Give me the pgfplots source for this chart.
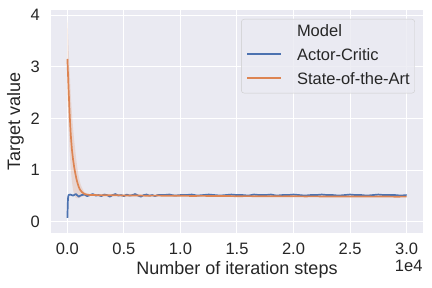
\documentclass[border=0pt]{standalone}
\usepackage{fontspec}
\setmainfont{Liberation Sans}
\usepackage{pgfplots}
\usepackage{pgfplotstable}
\pgfplotsset{compat=1.18}
\usepgfplotslibrary{fillbetween}
\definecolor{bgcol}{RGB}{234,234,242}
\definecolor{sbblue}{RGB}{76,114,176}
\definecolor{sborange}{RGB}{221,132,82}
\definecolor{txt}{RGB}{38,38,38}

\pgfplotstableread{
x y
0 0.08
50 0.45
100 0.52
250 0.53
500 0.51
750 0.54
1000 0.49
1250 0.52
1500 0.53
1750 0.50
2000 0.52
2250 0.54
2500 0.51
2750 0.52
3000 0.50
3250 0.53
3500 0.52
3750 0.49
4000 0.52
4250 0.54
4500 0.51
4750 0.52
5000 0.50
5250 0.53
5500 0.51
5750 0.52
6000 0.54
6250 0.51
6500 0.49
6750 0.52
7000 0.53
7250 0.51
7500 0.52
7750 0.50
8000 0.52
8500 0.52
9000 0.53
9500 0.51
10000 0.52
10500 0.52
11000 0.53
11500 0.51
12000 0.52
12500 0.53
13000 0.52
13500 0.51
14000 0.52
14500 0.53
15000 0.52
15500 0.52
16000 0.51
16500 0.53
17000 0.52
17500 0.52
18000 0.53
18500 0.51
19000 0.52
19500 0.52
20000 0.53
20500 0.52
21000 0.51
21500 0.52
22000 0.52
22500 0.53
23000 0.52
23500 0.52
24000 0.51
24500 0.52
25000 0.53
25500 0.52
26000 0.52
26500 0.51
27000 0.52
27500 0.53
28000 0.52
28500 0.52
29000 0.52
29500 0.51
30000 0.52
}\bluedata

\pgfplotstableread{
x lo hi
0 2.40 3.90
100 1.85 3.40
200 1.38 2.90
300 1.02 2.45
400 0.78 2.10
500 0.62 1.82
600 0.53 1.58
700 0.48 1.38
800 0.46 1.18
900 0.46 1.02
1000 0.46 0.88
1100 0.47 0.78
1200 0.48 0.71
1300 0.49 0.66
1440 0.50 0.60
1600 0.505 0.565
1800 0.51 0.545
2000 0.51 0.535
2500 0.51 0.53
3000 0.505 0.525
}\obanddata

\pgfplotstableread{
x y
0 3.15
100 2.60
200 2.08
300 1.68
400 1.40
500 1.21
600 1.06
700 0.94
800 0.83
900 0.75
1000 0.68
1100 0.63
1200 0.60
1300 0.575
1440 0.55
1600 0.535
1800 0.527
2000 0.522
2500 0.52
3000 0.515
4000 0.518
5000 0.512
6000 0.512
7000 0.508
8000 0.51
9000 0.505
10000 0.507
11000 0.503
12000 0.505
13000 0.50
14000 0.502
15000 0.498
16000 0.50
17000 0.497
18000 0.498
19000 0.495
20000 0.497
21000 0.494
22000 0.495
23000 0.492
24000 0.494
25000 0.491
26000 0.493
27000 0.490
28000 0.492
29000 0.489
30000 0.490
}\orangedata

\begin{document}
\begin{tikzpicture}
\path (0,0) rectangle (432pt,288pt);
\begin{axis}[
  at={(51pt,55pt)}, anchor=south west, scale only axis,
  width=372pt, height=223pt,
  xmin=-1450, xmax=31450, ymin=-0.213, ymax=4.097,
  axis background/.style={fill=bgcol},
  axis line style={draw=none},
  tick style={draw=none}, major tick length=0pt,
  grid=major, grid style={white, line width=1pt},
  xtick={0,5000,10000,15000,20000,25000,30000},
  xticklabels={0.0,0.5,1.0,1.5,2.0,2.5,3.0},
  ytick={0,1,2,3,4}, yticklabels={0,1,2,3,4},
  scaled x ticks=false,
  /pgf/number format/assume math mode=true,
  ticklabel style={font=\fontsize{16.5}{19.8}\selectfont, text=txt},
  xticklabel style={inner sep=0pt, anchor=north},
  xticklabel shift=10pt,
  yticklabel style={inner sep=0pt, anchor=east, xshift=-11pt},
  xlabel={Number of iteration steps}, ylabel={Target value},
  label style={font=\fontsize{18}{21.6}\selectfont, text=txt},
  xlabel style={at={([yshift=-42pt]axis description cs:0.5,0)}, anchor=base},
  ylabel style={at={([xshift=-31pt]axis description cs:0,0.5)}, anchor=base},
  legend style={at={(1,1)}, anchor=north east, xshift=-8pt, yshift=-9pt,
    draw=black!20, fill=bgcol, fill opacity=0.8, draw opacity=1, text opacity=1,
    rounded corners=3pt, font=\fontsize{16.5}{19.8}\selectfont, text=txt,
    inner xsep=5pt, inner ysep=6pt, row sep=8.8pt, column sep=15pt,
    nodes={inner sep=0pt, text height=11.8pt, text depth=3pt, anchor=base west}},
  legend cell align=left,
  legend image code/.code={\draw[#1, line width=1.7pt] (0pt,6.3pt) -- (34pt,6.3pt);},
]
\addlegendimage{empty legend}
\addlegendentry{Model}
\addplot[sbblue, line width=1.7pt, line join=round] table[x=x,y=y]{\bluedata};
\addlegendentry{Actor-Critic}
\addplot[draw=none, name path=ou, forget plot] table[x=x,y=hi]{\obanddata};
\addplot[draw=none, name path=ol, forget plot] table[x=x,y=lo]{\obanddata};
\addplot[fill=sborange, fill opacity=0.2, draw=none, forget plot] fill between[of=ou and ol];
\addplot[sborange, line width=1.7pt, line join=round] table[x=x,y=y]{\orangedata};
\addlegendentry{State-of-the-Art}
\end{axis}
\node[anchor=base east, font=\fontsize{16.5}{19.8}\selectfont, text=txt, inner sep=0pt] at (422.7pt,16.3pt) {1e4};
\pgfresetboundingbox
\path[use as bounding box] (0,0) rectangle (432pt,288pt);
\end{tikzpicture}
\end{document}
